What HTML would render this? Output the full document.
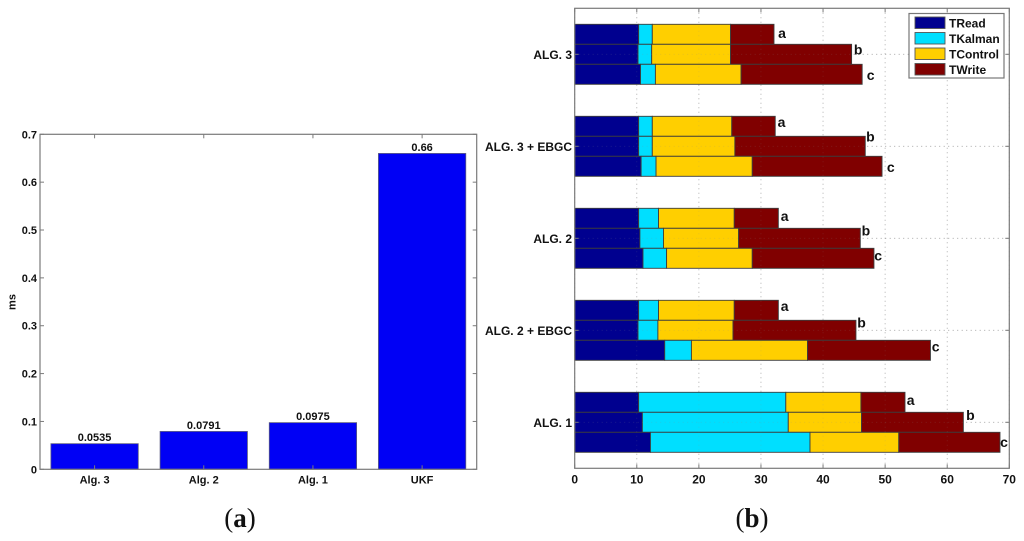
<!DOCTYPE html>
<html>
<head>
<meta charset="utf-8">
<title>Timing charts</title>
<style>
html,body{margin:0;padding:0;background:#fff;}
svg{display:block;}
text{font-family:"Liberation Sans",sans-serif;font-weight:bold;fill:#111;}
</style>
</head>
<body>
<svg id="fig" width="1024" height="541" viewBox="0 0 1024 541" xmlns="http://www.w3.org/2000/svg">
  <text x="240" y="527" text-anchor="middle" style="font-family:'Liberation Serif',serif;font-size:27px;font-weight:normal;">(<tspan font-weight="bold">a</tspan>)</text>
  <text x="752" y="527" text-anchor="middle" style="font-family:'Liberation Serif',serif;font-size:27px;font-weight:normal;">(<tspan font-weight="bold">b</tspan>)</text>
</svg>
<script>
// Panel (a) data
const timeCategories = ['Alg. 3', 'Alg. 2', 'Alg. 1', 'UKF'];
const timeValues = [0.0535, 0.0791, 0.0975, 0.66];
const timeLabels = ['0.0535', '0.0791', '0.0975', '0.66'];
const timeTicks = [0, 0.1, 0.2, 0.3, 0.4, 0.5, 0.6, 0.7];
const timeTickLabels = ['0', '0.1', '0.2', '0.3', '0.4', '0.5', '0.6', '0.7'];

// Panel (b) data: rows run a, b, c within each group, groups top to bottom
const groupNames = ['ALG. 3', 'ALG. 3 + EBGC', 'ALG. 2', 'ALG. 2 + EBGC', 'ALG. 1'];
const rowLetters = ['a', 'b', 'c'];
const seriesNames = ['TRead', 'TKalman', 'TControl', 'TWrite'];
const tRead = [10.3,10.2,10.6, 10.3,10.3,10.7, 10.3,10.5,11.0, 10.3,10.2,14.5, 10.3,10.9,12.2];
const tKalman = [2.2,2.2,2.4, 2.2,2.2,2.4, 3.2,3.8,3.8, 3.2,3.2,4.3, 23.7,23.5,25.7];
const tControl = [12.6,12.7,13.8, 12.8,13.3,15.5, 12.2,12.1,13.8, 12.2,12.1,18.7, 12.1,11.8,14.3];
const tWrite = [7.0,19.5,19.5, 7.0,21.0,20.9, 7.1,19.6,19.6, 7.1,19.8,19.8, 7.1,16.4,16.3];
const totalTicks = [0, 10, 20, 30, 40, 50, 60, 70];

const svg = document.getElementById('fig');
const NS = 'http://www.w3.org/2000/svg';
function make(tag, attrs, parent) {
  const el = document.createElementNS(NS, tag);
  for (const k in attrs) el.setAttribute(k, attrs[k]);
  (parent || svg).appendChild(el);
  return el;
}
const AXIS = '#7a7a7a';

function drawPanelA() {
  const L = 40, R = 476.7, T = 134.3, B = 469.3;
  const x = v => L + (v + 0.5) * (R - L) / timeCategories.length;
  const y = v => B - v / 0.7 * (B - T);
  const g = make('g', {});
  
  

  timeValues.forEach((v, i) => {
    const band = (R - L) / timeCategories.length;
    const bar = make('rect', {x: x(i) - band * 0.4, y: y(v), width: band * 0.8, height: B - y(v), fill: '#0000f5', stroke: '#5a5a80', 'stroke-width': 0.8}, g);
    
    
    const val = make('text', {x: x(i), y: y(v) - 2.5, 'text-anchor': 'middle', 'font-size': 11}, g);
    val.textContent = timeLabels[i];
    
    
    const cat = make('text', {x: x(i), y: B + 14, 'text-anchor': 'middle', 'font-size': 11}, g);
    cat.textContent = timeCategories[i];
    
    
    make('line', {x1: x(i), x2: x(i), y1: T, y2: T + 4, stroke: AXIS, 'stroke-width': 1}, g);
    make('line', {x1: x(i), x2: x(i), y1: B, y2: B - 4, stroke: AXIS, 'stroke-width': 1}, g);
  });

  timeTicks.forEach((t, i) => {
    make('line', {x1: L, x2: L + 4, y1: y(t), y2: y(t), stroke: AXIS, 'stroke-width': 1}, g);
    make('line', {x1: R, x2: R - 4, y1: y(t), y2: y(t), stroke: AXIS, 'stroke-width': 1}, g);
    const lab = make('text', {x: L - 3, y: y(t) + 4, 'text-anchor': 'end', 'font-size': 11}, g);
    lab.textContent = timeTickLabels[i];
    
    
  });

  const frame = make('rect', {x: L, y: T, width: R - L, height: B - T, fill: 'none', stroke: AXIS, 'stroke-width': 1.2}, g);
  
  

  const yt = make('text', {x: 0, y: 0, 'text-anchor': 'middle', 'font-size': 11, transform: 'translate(15.5 302) rotate(-90)'}, g);
  yt.textContent = 'ms';
  
  
}

function drawPanelB() {
  const L = 574.7, R = 1009.3, T = 8.3, B = 468.3;
  const colors = ['#00008f', '#00dfff', '#ffcf00', '#800000'];
  const series = [tRead, tKalman, tControl, tWrite];
  const x = v => L + v / 70 * (R - L);
  const groupCenter = i => T + (i + 0.5) * (B - T) / groupNames.length;
  const rowH = 20;
  // hand-placed annotation nudges (px) for the a/b/c letters: [dx, dy from row centre]
  const nudges = [
    [[8,0],[6.5,-5],[8.5,2.4]], [[6.3,-2.6],[5.2,-9.6],[8.7,2]], [[6.3,-0.7],[5.6,-7.7],[4.2,-1.4]],
    [[6.3,-2.6],[5.6,-8],[5.2,-2.3]], [[5.6,-1],[7,-7.3],[4,1]]
  ];
  const g = make('g', {});
  
  

  const gridLine = (x1, x2, y1, y2, op, parent) =>
    make('line', {x1, x2, y1, y2, stroke: '#8a8a8a', 'stroke-width': 0.8, 'stroke-dasharray': '1 3.5', opacity: op}, parent);

  groupNames.forEach((name, gi) => {
    const cy = groupCenter(gi);
    gridLine(L, R, cy, cy, 0.7, g);
  });
  totalTicks.forEach(t => {
    gridLine(x(t), x(t), T, B, 0.7, g);
  });

  groupNames.forEach((name, gi) => {
    rowLetters.forEach((letter, ri) => {
      const idx = gi * 3 + ri;
      const top = groupCenter(gi) + (ri - 1.5) * rowH;
      let acc = 0;
      series.forEach((s, si) => {
        const seg = make('rect', {x: x(acc), y: top, width: x(acc + s[idx]) - x(acc), height: rowH, fill: colors[si], stroke: '#3c3c3c', 'stroke-width': 0.9}, g);
        
        
        acc += s[idx];
      });
      const n = nudges[gi][ri];
      const lab = make('text', {x: x(acc) + n[0], y: top + rowH / 2 + n[1] + (letter === 'b' ? 5 : 3.5), 'text-anchor': 'middle', 'font-size': 14}, g);
      lab.textContent = letter;
      
      
    });
  });

  groupNames.forEach((name, gi) => {
    const cy = groupCenter(gi);
    gridLine(L, R, cy, cy, 0.22, g);
    make('line', {x1: L, x2: L + 4, y1: cy, y2: cy, stroke: AXIS, 'stroke-width': 1}, g);
    make('line', {x1: R, x2: R - 4, y1: cy, y2: cy, stroke: AXIS, 'stroke-width': 1}, g);
    const lab = make('text', {x: L - 2.7, y: cy + 4.5, 'text-anchor': 'end', 'font-size': 12}, g);
    lab.textContent = name;
    
    
  });

  totalTicks.forEach(t => {
    gridLine(x(t), x(t), T, B, 0.22, g);
    make('line', {x1: x(t), x2: x(t), y1: T, y2: T + 4, stroke: AXIS, 'stroke-width': 1}, g);
    make('line', {x1: x(t), x2: x(t), y1: B, y2: B - 4, stroke: AXIS, 'stroke-width': 1}, g);
    const lab = make('text', {x: x(t), y: B + 15, 'text-anchor': 'middle', 'font-size': 12}, g);
    lab.textContent = String(t);
    
    
  });

  const frame = make('rect', {x: L, y: T, width: R - L, height: B - T, fill: 'none', stroke: AXIS, 'stroke-width': 1.2}, g);
  
  

  const legend = make('g', {}, g);
  
  
  make('rect', {x: 909, y: 13.5, width: 95, height: 64.5, fill: '#fff', stroke: '#777', 'stroke-width': 1.2}, legend);
  seriesNames.forEach((s, i) => {
    const ly = 17 + i * 15.5;
    const sw = make('rect', {x: 915, y: ly, width: 30, height: 11.5, fill: colors[i], stroke: '#555', 'stroke-width': 0.9}, legend);
    
    
    const t = make('text', {x: 949, y: ly + 10.5, 'font-size': 12}, legend);
    t.textContent = s;
    
    
  });
}

drawPanelA();
drawPanelB();
</script>
</body>
</html>
